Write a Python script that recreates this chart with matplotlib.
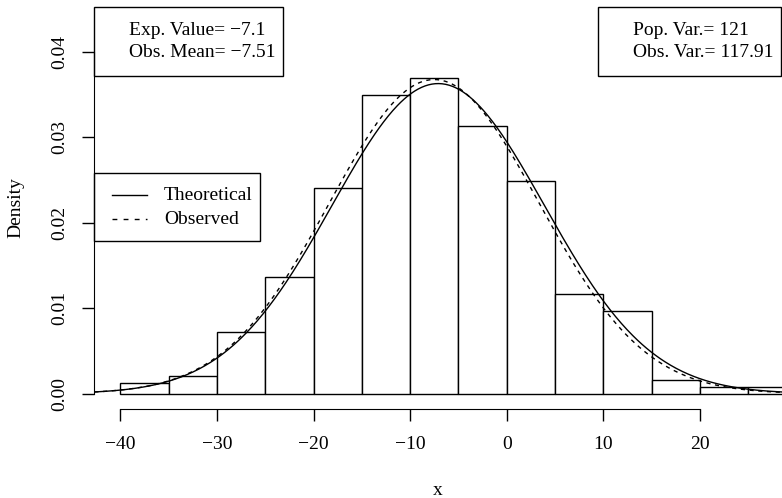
import numpy as np
import matplotlib.pyplot as plt
from matplotlib.patches import Rectangle
from matplotlib.lines import Line2D

plt.rcParams['font.family'] = ['Liberation Serif', 'DejaVu Serif']
FS = 14

# histogram bins (left edges, width 5) and densities
bin_left = [-40, -35, -30, -25, -20, -15, -10, -5, 0, 5, 10, 15, 20, 25]
bin_width = 5
density = [0.00122, 0.00203, 0.00725, 0.01368, 0.02409, 0.03494, 0.03689,
           0.03131, 0.02488, 0.01166, 0.00964, 0.00160, 0.00082, 0.00082]

exp_value, pop_var = -7.1, 121
obs_mean, obs_var = -7.51, 117.91

x_ticks = [-40, -30, -20, -10, 0, 10, 20]
y_ticks = [0.00, 0.01, 0.02, 0.03, 0.04]
y_ticklabels = ['0.00', '0.01', '0.02', '0.03', '0.04']


def npdf(x, m, v):
    return np.exp(-(x - m) ** 2 / (2 * v)) / np.sqrt(2 * np.pi * v)


W, H = 782, 498
fig = plt.figure(figsize=(W / 100, H / 100), dpi=100)
L, R, T, B = 94.3, 782, 6.7, 408.5
ax = fig.add_axes([L / W, 1 - B / H, (R - L) / W, (B - T) / H])

ax.bar(bin_left, density, width=bin_width, align='edge', facecolor='white',
       edgecolor='black', linewidth=1.0)

xlim = (-42.69, 28.48)
xs = np.linspace(xlim[0], xlim[1], 600)
ax.plot(xs, npdf(xs, exp_value, pop_var), color='black', lw=1.0)
ax.plot(xs, npdf(xs, obs_mean, obs_var), color='black', lw=1.0, dashes=(3, 3.3))

ax.set_xlim(*xlim)
ax.set_ylim(-0.00174, 0.04526)

for s in ['top', 'right']:
    ax.spines[s].set_visible(False)
ax.spines['bottom'].set_bounds(-40, 20)
ax.spines['left'].set_bounds(0, 0.04)
ax.set_xticks(x_ticks)
ax.set_yticks(y_ticks)
ax.set_yticklabels(y_ticklabels, rotation=90, va='center')
ax.tick_params(length=8.6, width=1.0, labelsize=FS, pad=11)
ax.tick_params(axis='y', pad=10)

ax.set_xlabel('x', fontsize=FS, va='center')
ax.xaxis.set_label_coords(0.5, -0.203)
ax.set_ylabel('Density', fontsize=FS, va='center')
ax.yaxis.set_label_coords(-0.1146, 0.5)


def box(x0, y0, x1, y1):
    fig.add_artist(Rectangle((x0 / W, 1 - y1 / H), (x1 - x0) / W, (y1 - y0) / H,
                             transform=fig.transFigure, fill=False,
                             edgecolor='black', lw=1.0))


def label(x, y, s):
    fig.text(x / W, 1 - y / H, s, ha='left', va='center', fontsize=FS)


# mean box
box(L, T, 282.7, 75.7)
label(129, 30.7, 'Exp. Value= \u2212%g' % abs(exp_value))
label(129, 52.3, 'Obs. Mean= \u2212%g' % abs(obs_mean))

# variance box
box(598.3, T, 781, 76)
label(633.3, 30.7, 'Pop. Var.= %g' % pop_var)
label(633.3, 52.3, 'Obs. Var.= %g' % obs_var)

# line legend
box(L, 172.7, 260, 240.7)
fig.add_artist(Line2D([111.7 / W, 146.7 / W], [1 - 195 / H] * 2,
                      transform=fig.transFigure, color='black', lw=1.0))
fig.add_artist(Line2D([111.7 / W, 146.7 / W], [1 - 219 / H] * 2,
                      transform=fig.transFigure, color='black', lw=1.0,
                      dashes=(3.5, 4.5)))
label(164, 195, 'Theoretical')
label(164, 219.5, 'Observed')

fig.savefig('out.png', dpi=100)
